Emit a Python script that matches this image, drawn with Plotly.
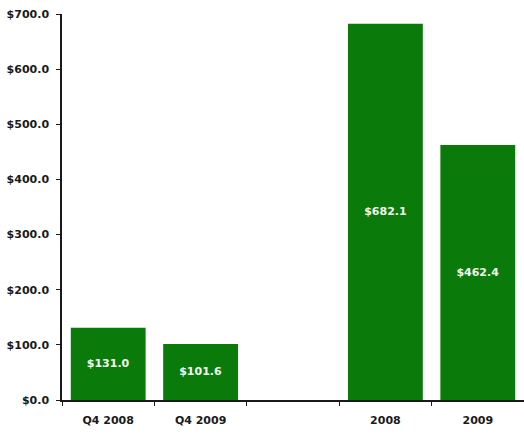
import plotly.graph_objects as go

# Revenue by period (US$ millions)
categories = ["Q4 2008", "Q4 2009", " ", "2008", "2009"]
values = [131.0, 101.6, None, 682.1, 462.4]
y_ticks = [0, 100, 200, 300, 400, 500, 600, 700]
y_tick_labels = ["$0.0", "$100.0", "$200.0", "$300.0", "$400.0", "$500.0", "$600.0", "$700.0"]
bar_labels = ["$131.0", "$101.6", "", "$682.1", "$462.4"]

GREEN = "#0A7B0A"
AXIS = "#1a1a1a"
TICK_FONT = dict(family="DejaVu Sans", size=11, color="#1a1a1a")

fig = go.Figure(
    go.Bar(
        x=categories,
        y=values,
        marker=dict(color=GREEN, line=dict(width=0)),
        text=bar_labels,
        textposition="inside",
        insidetextanchor="middle",
        textangle=0,
        textfont=dict(family="DejaVu Sans", size=11, color="#F4F8F0", weight="bold"),
        cliponaxis=False,
        hoverinfo="skip",
    )
)

fig.update_layout(
    width=524,
    height=435,
    margin=dict(l=62, r=0, t=14, b=35),
    paper_bgcolor="white",
    plot_bgcolor="white",
    bargap=0.19,
    showlegend=False,
    uniformtext=dict(minsize=8, mode="show"),
)

fig.update_xaxes(
    type="category",
    categoryorder="array",
    categoryarray=categories,
    tickson="boundaries",
    ticks="outside",
    ticklen=4,
    tickwidth=1,
    tickcolor=AXIS,
    showline=True,
    linecolor=AXIS,
    linewidth=1.5,
    showgrid=False,
    zeroline=False,
    tickfont=dict(**TICK_FONT, weight="bold"),
    ticklabelstandoff=9,
)

fig.update_yaxes(
    range=[0, 700],
    tickvals=y_ticks,
    ticktext=y_tick_labels,
    ticks="outside",
    ticklen=4,
    tickwidth=1,
    tickcolor=AXIS,
    showline=True,
    linecolor=AXIS,
    linewidth=1.5,
    showgrid=False,
    zeroline=False,
    tickfont=dict(**TICK_FONT, weight="bold"),
    ticklabelstandoff=5,
)

fig.write_html("out.html")
